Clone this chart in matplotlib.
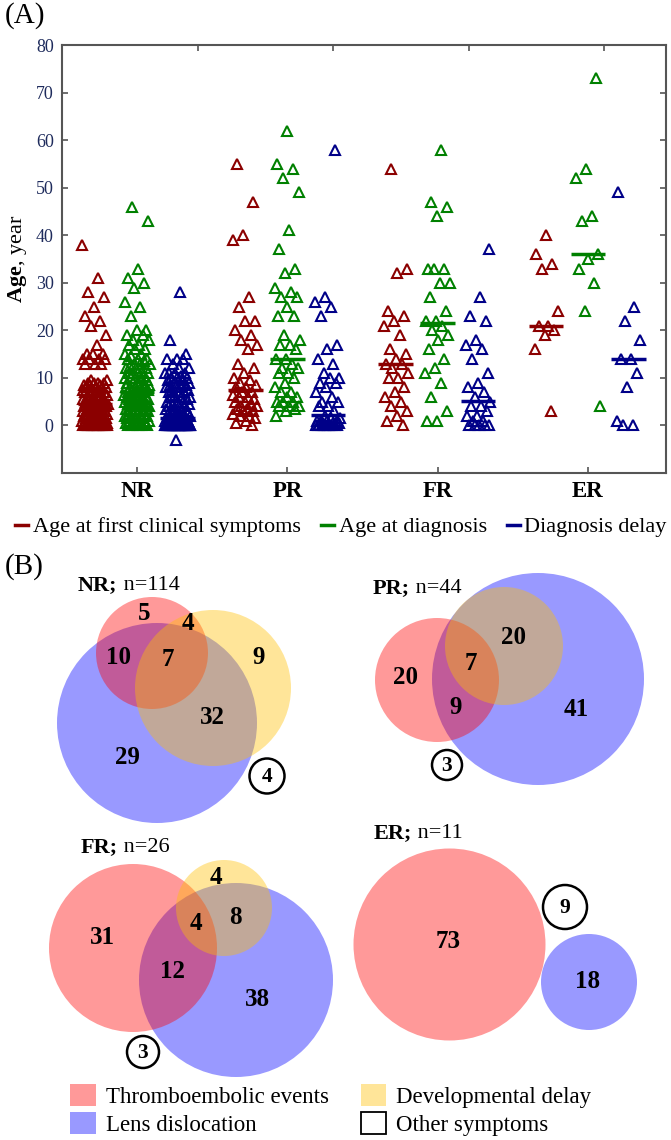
import matplotlib
matplotlib.use("Agg")
import matplotlib.pyplot as plt
from matplotlib.lines import Line2D
from matplotlib.patches import Circle, Patch
import numpy as np

plt.rcParams['font.family'] = ['Liberation Serif', 'DejaVu Serif']
plt.rcParams['mathtext.fontset'] = 'custom'
plt.rcParams['mathtext.rm'] = 'Liberation Serif'
plt.rcParams['mathtext.bf'] = 'Liberation Serif:bold'

# ---------------- data: panel A ----------------
categories = ['NR', 'PR', 'FR', 'ER']
series_names = ['Age at first clinical symptoms', 'Age at diagnosis', 'Diagnosis delay']

onset_NR = [38, 31, 28, 27, 25, 23, 22, 21, 19, 17, 15, 15, 15, 14, 14, 14, 14, 13, 13, 13,
            9.5, 9.5, 9, 9, 9, 9, 8.5, 8.5, 8.5, 8, 8, 8, 8, 7.5, 7.5, 7.5, 7, 7, 7, 7,
            6.5, 6.5, 6.5, 6, 6, 6, 6, 5.5, 5.5, 5.5, 5, 5, 5, 5, 5, 4.5, 4.5,
            4.5, 4.5, 4, 4, 4, 4, 4, 3.5, 3.5, 3.5, 3.5, 3, 3, 3, 3, 3, 2.5, 2.5, 2.5, 2.5,
            2, 2, 2, 2, 2, 2, 1.5, 1.5, 1.5, 1.5, 1, 1, 1, 1, 1, 1, 0.5, 0.5, 0.5, 0.5, 0.5,
            0, 0, 0, 0, 0, 0, 0, 0, 0, 0, 0, 0, 0, 0, 0, 0]
diag_NR = [46, 43, 33, 31, 30, 29, 26, 25, 23, 20, 20, 19, 19, 18, 18, 17, 17, 16, 16, 15, 15,
           14.5, 14, 14, 14, 13.5, 13, 13, 13, 12.5, 12, 12, 12, 11.5, 11, 11, 11, 11, 10.5,
           10, 10, 10, 10, 9.5, 9, 9, 9, 9, 8.5, 8.5, 8, 8, 8, 8, 7.5, 7.5, 7.5,
           7, 7, 7, 7, 6.5, 6.5, 6.5, 6, 6, 6, 6, 6, 5.5, 5.5, 5.5, 5, 5, 5, 5, 5,
           4.5, 4.5, 4.5, 4, 4, 4, 4, 4, 3.5, 3.5, 3.5, 3, 3, 3, 3, 2.5, 2.5, 2.5,
           2, 2, 2, 2, 1.5, 1.5, 1.5, 1, 1, 1, 1, 0.5, 0.5, 0.5, 0, 0, 0, 0, 0]
delay_NR = [28, 18, 15, 14, 14, 14, 13, 12, 12, 11, 11, 11, 11, 10.5, 10, 10, 10,
            9.5, 9.5, 9, 9, 9, 8.5, 8.5, 8, 8, 8, 7.5, 7.5, 7, 7, 7, 6.5, 6, 6, 6, 5.5,
            5, 5, 5, 4.5, 4.5, 4, 4, 4, 3.5, 3.5, 3, 3, 3, 2.5, 2.5, 2.5, 2, 2, 2, 2,
            1.5, 1.5, 1.5, 1.5, 1, 1, 1, 1, 1, 1, 1, 0.5, 0.5, 0.5, 0.5, 0.5, 0.5,
            0, 0, 0, 0, 0, 0, 0, 0, 0, 0,
            0, 0, 0, 0, 0, 0, 0, 0, 0, 0,
            0, 0, 0, 0, 0, 0, 0, 0, 0, 0,
            0, 0, 0, 0, 0, 0, 0, 0, 0, -3]

onset_PR = [55, 47, 40, 39, 27, 25, 22, 22, 20, 19, 18, 17, 16, 13, 12, 11, 10,
            9.5, 9, 8.5, 8, 8, 7, 7, 6.5, 6, 6, 5.5, 5, 5, 4.5, 4, 4, 3.5, 3.5, 3, 3,
            2.5, 2, 2, 1.5, 1, 0.5, 0]
diag_PR = [62, 55, 54, 52, 49, 41, 37, 33, 32, 29, 28, 27, 27, 25, 23, 23, 19, 18, 17, 17, 16,
           14, 14, 13, 12, 12, 11, 11, 10, 9, 8, 7, 7, 6, 6, 5, 5, 5, 4, 4, 4, 3.5, 3, 2]
delay_PR = [58, 27, 26, 25, 23, 17, 16, 14, 13, 11, 10, 10, 9, 9, 8, 7, 6, 5, 5, 4, 4, 3,
            2, 1.5, 1.5, 1, 1, 1, 1, 0.5, 0.5, 0.5, 0, 0, 0, 0, 0, 0, 0, 0, 0, 0, 0, 0]

onset_FR = [54, 33, 32, 24, 23, 22, 21, 19, 16, 15, 14, 13, 13, 12, 11, 10, 10, 8, 7, 6, 5,
            4, 3, 2, 1, 0]
diag_FR = [58, 47, 46, 44, 33, 33, 33, 30, 30, 27, 24, 22, 22, 21, 20, 19, 18, 16, 14, 12,
           11, 9, 6, 3, 1, 1]
delay_FR = [37, 27, 23, 22, 18, 17, 16, 14, 11, 9, 8, 7, 6, 5, 4, 4, 3, 2, 2, 1, 1,
            0, 0, 0, 0, 0]

onset_ER = [40, 36, 34, 33, 24, 21, 21, 20, 19, 16, 3]
diag_ER = [73, 54, 52, 44, 43, 36, 35, 33, 30, 24, 4]
delay_ER = [49, 25, 22, 18, 14, 14, 11, 8, 1, 0, 0]

med_onset = [4.5, 7.5, 13, 21]
med_diag = [7, 14, 21.5, 36]
med_delay = [1.5, 2.3, 5.2, 14]

# ---------------- data: panel B ----------------
venn_titles = ['NR', 'PR', 'FR', 'ER']
venn_n = [114, 44, 26, 11]
venn_NR_counts = ['5', '4', '10', '7', '9', '32', '29']
venn_PR_counts = ['20', '7', '20', '9', '41']
venn_FR_counts = ['4', '8', '4', '31', '12', '38']
venn_ER_counts = ['73', '18']
other_counts = ['4', '3', '3', '9']
legend_B = ['Thromboembolic events', 'Lens dislocation', 'Developmental delay', 'Other symptoms']

# ---------------- styling ----------------
W, H = 671, 1140
fig = plt.figure(figsize=(W / 100, H / 100), dpi=100)
col_red, col_green, col_blue = '#8b0000', '#008000', '#000088'
series_colors = [col_red, col_green, col_blue]

axA = fig.add_axes([62 / W, 1 - 473 / H, 604 / W, 428 / H])
groups = [[onset_NR, onset_PR, onset_FR, onset_ER],
          [diag_NR, diag_PR, diag_FR, diag_ER],
          [delay_NR, delay_PR, delay_FR, delay_ER]]
medians = [med_onset, med_diag, med_delay]
offsets = [-0.28, 0.0, 0.27]
jit = 0.085
for s, (grp, meds, off, c) in enumerate(zip(groups, medians, offsets, series_colors)):
    for ci, vals in enumerate(grp):
        vals = np.asarray(vals, dtype=float)
        k = np.arange(len(vals))
        frac = (k * 0.6180339887 + 0.3 * s + 0.17 * ci) % 1.0
        xs = ci + 1 + off + (frac - 0.5) * 2 * jit
        axA.plot(xs, vals, ls='none', marker='^', mfc='none', mec=c, mew=1.5, ms=7.2, zorder=3)
        axA.hlines(meds[ci], ci + 1 + off - 0.115, ci + 1 + off + 0.115, color=c, lw=2.5, zorder=4)

axA.set_xlim(0.5, 4.52)
axA.set_ylim(-10, 80)
axA.set_yticks(range(0, 81, 10))
axA.set_xticks(range(1, 5))
axA.set_xticklabels(categories, fontsize=16.5, fontweight='bold')
axA.tick_params(axis='x', direction='in', length=4, pad=6, width=1.2, color='#555555')
axA.tick_params(axis='y', direction='in', length=4, labelsize=13, labelcolor='#1e2b5c',
                right=True, width=1.2, pad=6, color='#555555')
for sp in axA.spines.values():
    sp.set_color('#555555')
    sp.set_linewidth(1.5)
axA.set_ylabel(r'$\mathbf{Age}$, year', fontsize=16, labelpad=5)

axT = axA.twiny()
axT.set_xlim(0, 1)
axT.set_xticks([0.225, 0.449, 0.674, 0.897])
axT.set_xticklabels([])
axT.tick_params(axis='x', direction='in', length=4, width=1.2, color='#555555')
for sp in axT.spines.values():
    sp.set_visible(False)

fig.text(5 / W, 1 - 16 / H, '(A)', fontsize=21, va='center', ha='left')

handlesA = [Line2D([], [], color=c, lw=2.5) for c in series_colors]
fig.legend(handlesA, series_names, loc='center', bbox_to_anchor=(341 / W, 1 - 527 / H),
           ncol=3, frameon=False, fontsize=16, handlelength=0.6, handletextpad=0.2,
           columnspacing=0.9, borderpad=0, borderaxespad=0)

# ---------------- panel B ----------------
axB = fig.add_axes([0, 0, 1, 1])
axB.set_xlim(0, W)
axB.set_ylim(H, 0)
axB.axis('off')
axB.patch.set_alpha(0)

RED, BLUE, YEL = '#ff0000', '#0000ff', '#ffc000'
AL = 0.4


def circ(x, y, r, c):
    axB.add_patch(Circle((x, y), r, facecolor=c, edgecolor='none', alpha=AL, zorder=1))


def other(x, y, r, t):
    axB.add_patch(Circle((x, y), r, facecolor='none', edgecolor='black', lw=1.8, zorder=3))
    axB.text(x, y + 1, t, ha='center', va='center', fontsize=15.5, fontweight='bold', zorder=4)


def lab(x, y, t):
    axB.text(x, y, t, ha='center', va='center', fontsize=18, fontweight='bold', zorder=4)


def title(x, y, name, n):
    t1 = axB.text(x, y, name + ';', ha='left', va='baseline', fontsize=16, fontweight='bold')
    axB.annotate(' n=' + str(n), xy=(1, 0), xycoords=t1, ha='left', va='bottom', fontsize=16)


fig.text(5 / W, 1 - 567 / H, '(B)', fontsize=21, va='center', ha='left')

# NR
circ(157, 723, 100, BLUE)
circ(152, 653, 56, RED)
circ(213, 688, 78, YEL)
for (x, y), t in zip([(144, 614), (188, 623), (119, 657), (168, 660), (259, 658), (212, 718), (127, 758)],
                     venn_NR_counts):
    lab(x, y, t)
other(267, 776, 17.5, other_counts[0])
title(78, 590, venn_titles[0], venn_n[0])

# PR
circ(538, 679, 106, BLUE)
circ(437, 680, 62, RED)
circ(504, 646, 59, YEL)
for (x, y), t in zip([(406, 678), (471, 663), (513, 638), (456, 707), (576, 710)], venn_PR_counts):
    lab(x, y, t)
other(447, 765, 15, other_counts[1])
title(373, 593, venn_titles[1], venn_n[1])

# FR
circ(236, 980, 97, BLUE)
circ(133, 948, 84, RED)
circ(224, 908, 48, YEL)
for (x, y), t in zip([(216, 877), (235, 917), (196, 924), (102, 938), (173, 972), (258, 1000)],
                     venn_FR_counts):
    lab(x, y, t)
other(143, 1052, 16, other_counts[2])
title(81, 852, venn_titles[2], venn_n[2])

# ER
circ(449.5, 944.5, 96, RED)
circ(589, 982, 48, BLUE)
for (x, y), t in zip([(448, 942), (588, 982)], venn_ER_counts):
    lab(x, y, t)
other(565, 907, 22, other_counts[3])
title(374, 838, venn_titles[3], venn_n[3])

handlesB = [Patch(facecolor=RED, alpha=AL, edgecolor='none'),
            Patch(facecolor=BLUE, alpha=AL, edgecolor='none'),
            Patch(facecolor=YEL, alpha=AL, edgecolor='none'),
            Patch(facecolor='white', edgecolor='black', lw=1.3)]
fig.legend(handlesB, legend_B, loc='center', bbox_to_anchor=(331 / W, 1 - 1110 / H),
           ncol=2, frameon=False, fontsize=16.5, handlelength=1.1, handleheight=1.1,
           handletextpad=0.45, columnspacing=1.4, labelspacing=0.2, borderpad=0, borderaxespad=0)

fig.savefig('out.png', dpi=100)
